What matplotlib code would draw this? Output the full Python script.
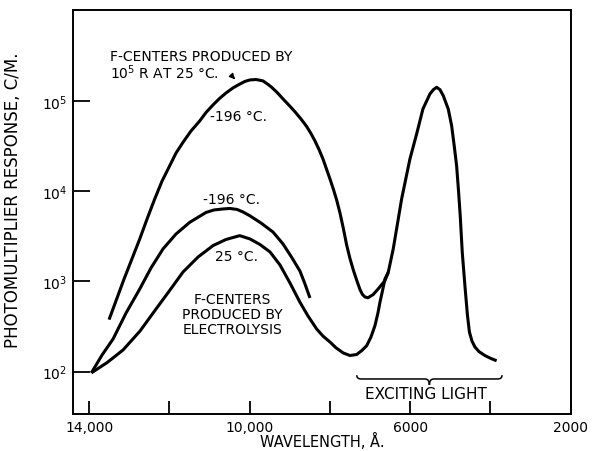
import matplotlib
matplotlib.use("Agg")
import matplotlib.pyplot as plt
from matplotlib.path import Path
from matplotlib.patches import PathPatch
from matplotlib.ticker import NullLocator
from matplotlib.transforms import blended_transform_factory

# wavelength in angstrom, photomultiplier response in counts/min
irradiated_wl = [13502, 13128, 12737, 12555, 12364, 12182, 11990, 11833, 11659,
                 11460, 11243, 11086, 10912, 10750, 10588, 10413, 10247, 10115,
                 9997, 9840, 9666, 9542, 9450, 9317, 9168, 9019, 8869, 8720,
                 8578, 8471, 8371, 8271, 8172, 8085, 7997, 7910, 7831, 7748,
                 7661, 7582, 7499, 7412, 7325, 7250, 7188, 7126, 7051, 6919,
                 6777, 6628, 6545, 6421, 6212, 6005, 5838, 5681, 5507, 5420,
                 5340, 5258, 5175, 5051, 4966, 4902, 4842, 4792, 4752, 4702,
                 4635, 4573, 4523, 4461, 4386, 4286, 4137, 3987, 3845]
irradiated_resp = [377, 1063, 2950, 4910, 8180, 12900, 19100, 26400, 34700,
                   46300, 59800, 74200, 89900, 106000, 122000, 139000, 153000,
                   164000, 170000, 172000, 166000, 152000, 141000, 124000,
                   105000, 89400, 75500, 62900, 51900, 43400, 35900, 28900,
                   22700, 17600, 13600, 10400, 7970, 5720, 3800, 2530, 1790,
                   1320, 1010, 813, 716, 672, 658, 716, 845, 1020, 1260, 2290,
                   8180, 22700, 42900, 81200, 119000, 133000, 141000, 133000,
                   114000, 81200, 53000, 31800, 19100, 9700, 5340, 2120, 896,
                   425, 275, 219, 188, 167, 151, 140, 132]

electro_cold_wl = [13943, 13676, 13402, 13078, 12737, 12456, 12157, 11833,
                   11492, 11086, 10887, 10662, 10488, 10314, 10164, 9997, 9716,
                   9417, 9168, 8956, 8745, 8620, 8496]
electro_cold_resp = [97, 153, 230, 447, 824, 1410, 2290, 3350, 4510, 5800, 6180,
                     6340, 6420, 6260, 5870, 5340, 4430, 3520, 2600, 1860, 1300,
                     936, 655]

electro_warm_wl = [13943, 13552, 13153, 12730, 12331, 11983, 11659, 11285,
                   10912, 10588, 10247, 9990, 9741, 9492, 9243, 8994, 8745,
                   8545, 8329, 8172, 7997, 7848, 7666, 7499, 7332, 7200, 7083,
                   6976, 6877, 6802, 6752, 6690, 6628, 6545]
electro_warm_resp = [97, 126, 174, 282, 495, 803, 1270, 1860, 2490, 2910, 3210,
                     2950, 2560, 2120, 1520, 960, 587, 414, 297, 248, 213, 184,
                     161, 151, 155, 172, 194, 242, 323, 447, 587, 783, 1063,
                     1260]

exciting_range = (7330, 3710)

x_ticks = [14000, 12000, 10000, 8000, 6000, 4000, 2000]
x_labels = ["14,000", "", "10,000", "", "6000", "", "2000"]
y_ticks = [1e2, 1e3, 1e4, 1e5]
y_labels = [r"$\mathregular{10^2}$", r"$\mathregular{10^3}$",
            r"$\mathregular{10^4}$", r"$\mathregular{10^5}$"]

plt.rcParams["font.family"] = "DejaVu Sans"
plt.rcParams["mathtext.default"] = "regular"

fig = plt.figure(figsize=(5.96, 4.52), dpi=100)
ax = fig.add_axes([0.1225, 0.0819, 0.835, 0.8944])

line_kw = dict(color="black", linewidth=2.2, solid_capstyle="butt",
               solid_joinstyle="round")
ax.plot(irradiated_wl, irradiated_resp, **line_kw)
ax.plot(electro_cold_wl, electro_cold_resp, **line_kw)
ax.plot(electro_warm_wl, electro_warm_resp, **line_kw)

ax.set_yscale("log")
ax.set_xlim(14400, 2000)
ax.set_ylim(34, 1.02e6)

ax.set_xticks(x_ticks)
ax.set_xticklabels(x_labels)
ax.set_yticks(y_ticks)
ax.set_yticklabels(y_labels)
ax.yaxis.set_minor_locator(NullLocator())
ax.tick_params(axis="x", direction="in", length=9.5, width=1.3, pad=4.5,
               labelsize=10)
ax.tick_params(axis="y", direction="in", length=12, width=1.3, pad=4,
               labelsize=10)
for sp in ax.spines.values():
    sp.set_linewidth(1.4)

ax.set_xlabel("WAVELENGTH, Å.", fontsize=10.5, va="bottom")
ax.xaxis.set_label_coords(0.50, -0.0855)
ax.set_ylabel("PHOTOMULTIPLIER RESPONSE, C/M.", fontsize=12)
ax.yaxis.set_label_coords(-0.103, 0.53)

txt = dict(fontsize=10, color="black")
ax.text(13477, 3.16e5, "F-CENTERS PRODUCED BY", ha="left", va="center", **txt)
ax.text(13477, 2.08e5, r"$\mathregular{10^5}$ R AT 25 °C.", ha="left",
        va="center", **txt)
ax.annotate("", xy=(10314, 1.64e5), xytext=(10438, 1.88e5),
            arrowprops=dict(arrowstyle="-|>", color="black", lw=1.0,
                            mutation_scale=8))
ax.text(10289, 6.8e4, "-196 °C.", ha="center", va="center", **txt)
ax.text(10463, 8180, "-196 °C.", ha="center", va="center", **txt)
ax.text(10314, 1910, "25 °C.", ha="center", va="center", **txt)
ax.text(10438, 434, "F-CENTERS\nPRODUCED BY\nELECTROLYSIS", ha="center",
        va="center", linespacing=1.1, **txt)

# curly brace under the exciting light band
trans = blended_transform_factory(ax.transData, ax.transAxes)
x0, x1 = exciting_range
xm = (x0 + x1) / 2
d = (x1 - x0) * 0.03
y_base, y_end, y_tip = 0.0866, 0.096, 0.072
verts = [(x0, y_end), (x0, y_base), (x0 + d, y_base),
         (xm - d, y_base), (xm, y_base), (xm, y_tip),
         (xm, y_base), (xm + d, y_base),
         (x1 - d, y_base), (x1, y_base), (x1, y_end)]
codes = [Path.MOVETO, Path.CURVE3, Path.CURVE3,
         Path.LINETO, Path.CURVE3, Path.CURVE3,
         Path.CURVE3, Path.CURVE3,
         Path.LINETO, Path.CURVE3, Path.CURVE3]
ax.add_patch(PathPatch(Path(verts, codes), transform=trans, fill=False,
                       lw=1.1, color="black"))
ax.text(5594, 56.6, "EXCITING LIGHT", ha="center", va="center", fontsize=11)

fig.savefig("out.png", dpi=100)
